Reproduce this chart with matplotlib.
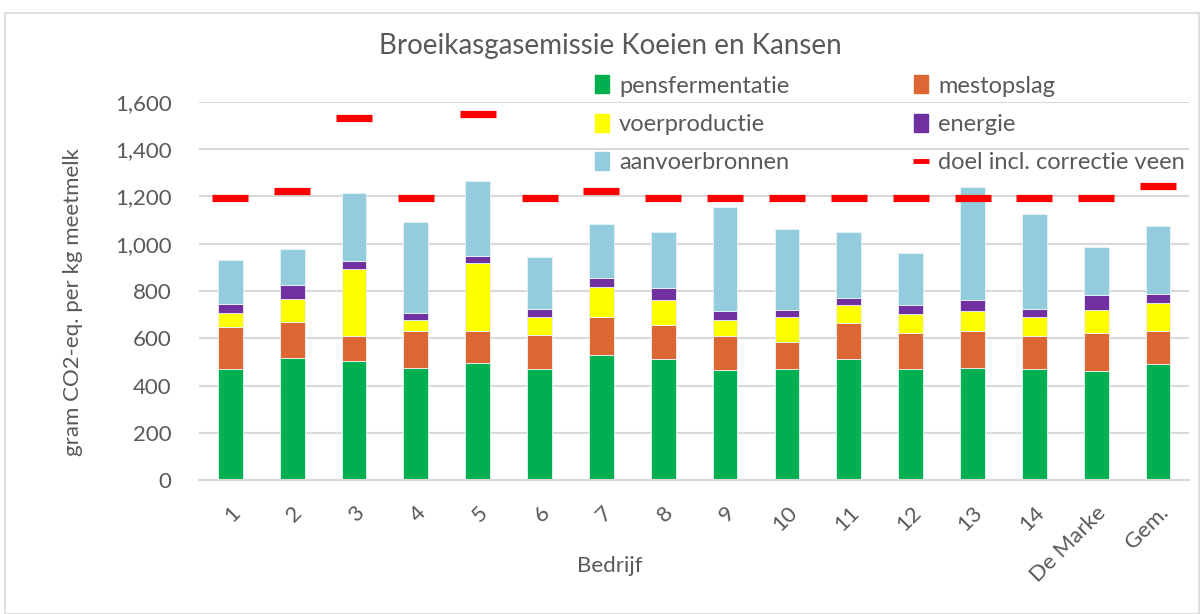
import matplotlib.pyplot as plt
from matplotlib.lines import Line2D
from matplotlib.patches import Patch, Rectangle
import numpy as np

plt.rcParams['font.family'] = ['Lato', 'DejaVu Sans']

bedrijven = ['1', '2', '3', '4', '5', '6', '7', '8', '9', '10', '11', '12', '13', '14', 'De Marke', 'Gem.']

# cumulative tops, converted to segment sizes below
top_pens = [472, 517, 504, 476, 494, 472, 531, 514, 466, 472, 514, 472, 476, 472, 463, 490]
top_mest = [647, 670, 609, 629, 629, 615, 692, 656, 609, 586, 666, 623, 629, 609, 623, 633]
top_voer = [707, 766, 895, 678, 919, 692, 817, 762, 678, 692, 743, 701, 715, 692, 721, 748]
top_energie = [746, 827, 929, 707, 947, 726, 854, 813, 716, 721, 772, 739, 762, 725, 782, 786]
top_aanvoer = [932, 978, 1215, 1093, 1266, 942, 1085, 1048, 1155, 1062, 1048, 960, 1238, 1126, 988, 1075]
doel = [1195, 1222, 1532, 1195, 1551, 1195, 1222, 1195, 1195, 1195, 1195, 1195, 1195, 1195, 1195, 1245]

pensfermentatie = np.array(top_pens)
mestopslag = np.array(top_mest) - np.array(top_pens)
voerproductie = np.array(top_voer) - np.array(top_mest)
energie = np.array(top_energie) - np.array(top_voer)
aanvoerbronnen = np.array(top_aanvoer) - np.array(top_energie)

series = [
    ('pensfermentatie', pensfermentatie, '#00B050'),
    ('mestopslag', mestopslag, '#DD6733'),
    ('voerproductie', voerproductie, '#FFFF00'),
    ('energie', energie, '#7030A0'),
    ('aanvoerbronnen', aanvoerbronnen, '#93CDDD'),
]

tekst = '#595959'

fig = plt.figure(figsize=(12.01, 6.14), dpi=100)
ax = fig.add_axes([0.166, 0.218, 0.824, 0.616])

x = np.arange(len(bedrijven))
bottom = np.zeros(len(bedrijven))
for naam, waarden, kleur in series:
    ax.bar(x, waarden, 0.4, bottom=bottom, color=kleur, edgecolor='#E8F4F8',
           linewidth=0.6, label=naam, zorder=2)
    bottom = bottom + waarden

ax.plot(x, doel, linestyle='none', marker='_', markersize=26, markeredgewidth=5.2,
        color='#FF0000', zorder=3)

ax.set_xlim(-0.5, len(bedrijven) - 0.5)
ax.set_ylim(0, 1600)
ax.set_yticks(np.arange(0, 1601, 200))
ax.set_yticklabels([f'{v:,}' for v in range(0, 1601, 200)])
ax.yaxis.grid(True, color='#D9D9D9', linewidth=1.5, zorder=0)
ax.set_axisbelow(True)
ax.set_xticks(x)
ax.set_xticklabels(bedrijven, rotation=45, ha='right', va='top', rotation_mode='anchor')
ax.tick_params(axis='both', length=0, labelsize=16, labelcolor=tekst)
ax.tick_params(axis='y', pad=20)
ax.tick_params(axis='x', pad=16)
for s in ['top', 'right', 'left']:
    ax.spines[s].set_visible(False)
ax.spines['bottom'].set_color('#D9D9D9')
ax.spines['bottom'].set_linewidth(1.5)

ax.set_ylabel('gram CO2-eq. per kg meetmelk', fontsize=16, color=tekst)
ax.yaxis.set_label_coords(-0.118, 0.47)
ax.set_xlabel('Bedrijf', fontsize=16, color=tekst)
ax.xaxis.set_label_coords(0.415, -0.2)
fig.text(0.508, 0.925, 'Broeikasgasemissie Koeien en Kansen', fontsize=20,
         color=tekst, ha='center', va='center')

handles = [Patch(color=k, label=n) for n, _, k in series]
doel_handle = Line2D([], [], color='#FF0000', marker='_', linestyle='none',
                     markersize=11, markeredgewidth=3.5, label='doel incl. correctie veen')
order = [handles[0], handles[2], handles[4], handles[1], handles[3], doel_handle]
leg = fig.legend(handles=order, ncol=2, frameon=False, fontsize=17,
                 loc='upper left', bbox_to_anchor=(0.478, 0.912),
                 handlelength=0.6, handleheight=0.8, handletextpad=0.4,
                 columnspacing=5.3, labelspacing=0.73)
for t in leg.get_texts():
    t.set_color(tekst)

fig.patches.append(Rectangle((0.004, 0.0), 0.994, 0.979, transform=fig.transFigure,
                             fill=False, edgecolor='#D9D9D9', linewidth=1.2))

fig.savefig('out.png', dpi=100)
